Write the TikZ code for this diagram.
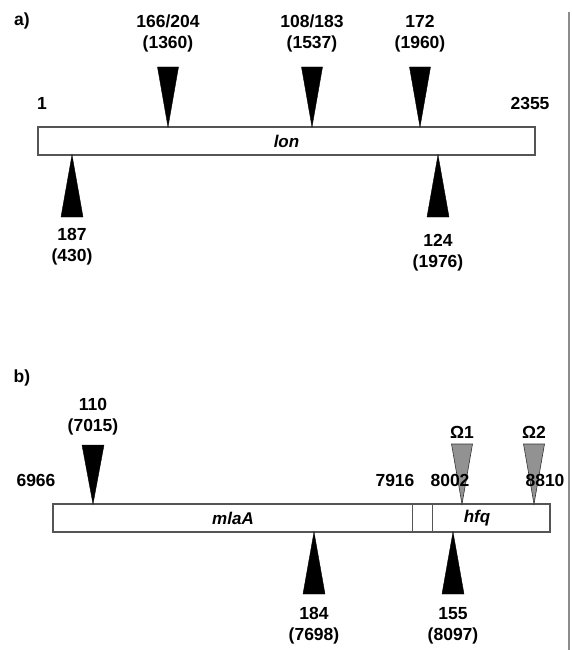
\documentclass[tikz,border=0pt]{standalone}
\usepackage{fontspec}
\setmainfont{Liberation Sans}
\definecolor{linec}{HTML}{555555}
\definecolor{omegagray}{HTML}{7F7F7F}
\begin{document}
\begin{tikzpicture}[x=1pt,y=-1pt,
  lbl/.style={font=\fontsize{17.5}{21}\selectfont\bfseries, inner sep=0pt, align=center},
  genelbl/.style={font=\fontsize{17}{19}\selectfont\bfseries\itshape, inner sep=0pt},
  genebox/.style={draw=linec, line width=1.2pt, fill=white},
  blacktri/.style={fill=black, draw=black, line width=0.4pt},
  graytri/.style={fill=omegagray, fill opacity=0.85, draw=black!80, line width=0.6pt},
  sidebar/.style={draw=black!45, line width=1.4pt}]
\useasboundingbox (0,0) rectangle (572,650);
% right border line
\coordinate (barT) at (569,12);
\coordinate (barB) at (569,650);
\draw[sidebar] (barT) -- (barB);

% ---------------- panel a ----------------
\node[lbl] (pa) at (22,21) {a)};
\node[genebox, minimum width=497pt, minimum height=28pt, inner sep=0pt] (lon) at (286.5,141) {};
\node[genelbl] (lonT) at (lon.center) {lon};
\node[lbl] (s1) at (42,103) {1};
\node[lbl] (s2355) at (530,103) {2355};

\node[lbl] (t1) at (168,33.5) {166/204\\(1360)};
\node[lbl] (t2) at (312,33.5) {108/183\\(1537)};
\node[lbl] (t3) at (420,33.5) {172\\(1960)};
\foreach \x in {168,312,420}{
  \fill[blacktri] (\x-10.5,67) -- (\x+10.5,67) -- (\x,127) -- cycle;
}
\foreach \x in {72,438}{
  \fill[blacktri] (\x-11,217) -- (\x+11,217) -- (\x,155) -- cycle;
}
\node[lbl] (b1) at (72,247) {187\\(430)};
\node[lbl] (b2) at (438,253) {124\\(1976)};

% ---------------- panel b ----------------
\node[lbl] (pb) at (22,378) {b)};
\node[genebox, minimum width=497pt, minimum height=28pt, inner sep=0pt] (mla) at (301.5,518) {};
\coordinate (d1t) at (412,504);
\coordinate (d1b) at (412,532);
\coordinate (d2t) at (432,504);
\coordinate (d2b) at (432,532);
\draw[draw=linec, line width=0.9pt] (d1t) -- (d1b);
\draw[draw=linec, line width=0.9pt] (d2t) -- (d2b);
\node[genelbl] (mlaT) at (233,518) {mlaA};
\node[genelbl] (hfqT) at (477,518) {hfq};

\node[lbl] (t110) at (93,416.5) {110\\(7015)};
\fill[blacktri] (93-11,445) -- (93+11,445) -- (93,504) -- cycle;

\node[lbl] (om1) at (462,432) {Ω1};
\node[lbl] (om2) at (534,432) {Ω2};
\foreach \x in {462,534}{
  \filldraw[graytri] (\x-10.5,444) -- (\x+10.5,444) -- (\x,504) -- cycle;
}

\node[lbl] (n6966) at (36,480) {6966};
\node[lbl] (n7916) at (395,480) {7916};
\node[lbl] (n8002) at (450,480) {8002};
\node[lbl] (n8810) at (545,480) {8810};

\foreach \x in {314,453}{
  \fill[blacktri] (\x-11,594) -- (\x+11,594) -- (\x,532) -- cycle;
}
\node[lbl] (b184) at (314,626) {184\\(7698)};
\node[lbl] (b155) at (453,626) {155\\(8097)};
\end{tikzpicture}
\end{document}
